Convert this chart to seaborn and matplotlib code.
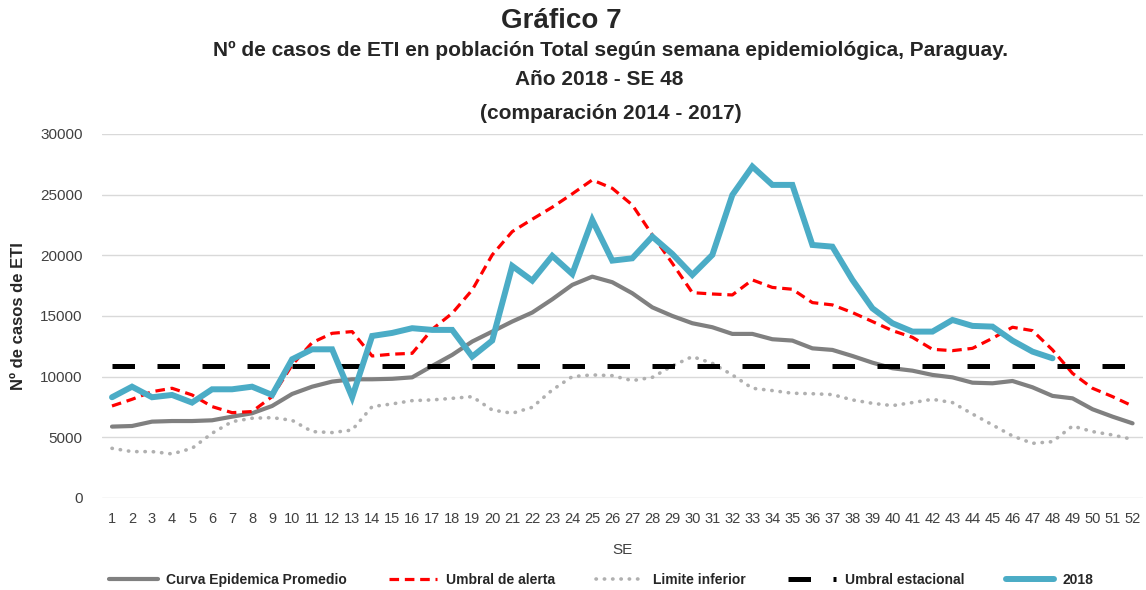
import matplotlib
matplotlib.use("Agg")
import matplotlib.pyplot as plt
import numpy as np
import pandas as pd
import seaborn as sns

# =============================================================================
# DATA
# =============================================================================
weeks = list(range(1, 53))

promedio = [5880, 5930, 6290, 6340, 6340, 6400, 6700, 6980, 7580, 8570,
            9170, 9590, 9780, 9780, 9820, 9940, 10880, 11790, 12890, 13710,
            14540, 15280, 16370, 17560, 18240, 17780, 16870, 15710, 15000, 14400,
            14070, 13520, 13520, 13080, 12970, 12330, 12200, 11700, 11150, 10690,
            10490, 10140, 9940, 9500, 9450, 9640, 9120, 8410, 8210, 7310,
            6700, 6150]

alerta = [7580, 8130, 8760, 9040, 8490, 7530, 7030, 7120, 8350, 10960,
          12800, 13570, 13710, 11700, 11850, 11920, 13900, 15220, 17140, 20030,
          21950, 22970, 23960, 25060, 26210, 25520, 24150, 21680, 19340, 16920,
          16810, 16730, 17970, 17350, 17200, 16100, 15910, 15280, 14540, 13790,
          13240, 12250, 12140, 12330, 13160, 14070, 13790, 12200, 10270, 9040,
          8350, 7580]

inferior = [4090, 3820, 3820, 3630, 4090, 5330, 6290, 6570, 6620, 6400,
            5470, 5390, 5600, 7530, 7750, 8020, 8080, 8210, 8350, 7250,
            6980, 7470, 8900, 10000, 10140, 10080, 9670, 9940, 10880, 11650,
            11100, 10140, 9040, 8850, 8630, 8590, 8520, 8080, 7800, 7610,
            7860, 8130, 7860, 6920, 6020, 5110, 4500, 4640, 5930, 5470,
            5190, 4830]

estacional = [10850] * 52

weeks_2018 = list(range(1, 49))
casos_2018 = [8300, 9170, 8300, 8490, 7860, 8955, 8955, 9170, 8490, 11430,
              12250, 12250, 8300, 13350, 13600, 13990, 13850, 13850, 11650, 12970,
              19120, 17910, 19950, 18460, 22910, 19560, 19750, 21540, 20110, 18380,
              20030, 24970, 27310, 25800, 25800, 20850, 20710, 17970, 15630, 14400,
              13710, 13710, 14670, 14180, 14120, 12970, 12060, 11510]

y_ticks = [0, 5000, 10000, 15000, 20000, 25000, 30000]

# =============================================================================
# PLOT
# =============================================================================
sns.set_style("white")
plt.rcParams["font.family"] = ["Liberation Sans", "DejaVu Sans"]

fig = plt.figure(figsize=(11.46, 5.90), dpi=100)
ax = fig.add_axes([0.089, 0.156, 0.908, 0.617])

ref = pd.DataFrame({"SE": weeks, "promedio": promedio, "alerta": alerta,
                    "inferior": inferior, "estacional": estacional})
cur = pd.DataFrame({"SE": weeks_2018, "casos": casos_2018})

sns.lineplot(data=ref, x="SE", y="promedio", ax=ax, color="#808080", lw=3.0,
             label="Curva Epidemica Promedio")
sns.lineplot(data=ref, x="SE", y="alerta", ax=ax, color="#FF0000", lw=2.3,
             label="Umbral de alerta")
ax.lines[-1].set_dashes([3, 1.8])
sns.lineplot(data=ref, x="SE", y="inferior", ax=ax, color="#B0B0B0", lw=2.6,
             label="Limite inferior")
ax.lines[-1].set_dashes([0.1, 2.2])
ax.lines[-1].set_dash_capstyle("round")
sns.lineplot(data=ref, x="SE", y="estacional", ax=ax, color="black", lw=3.6,
             label="Umbral estacional")
ax.lines[-1].set_dashes([4.5, 4.5])
sns.lineplot(data=cur, x="SE", y="casos", ax=ax, color="#4BACC6", lw=4.3,
             label="2018")
ax.lines[-1].set_solid_joinstyle("miter")

ax.set_xlim(0.5, 52.5)
ax.set_ylim(0, 30000)
ax.set_xticks(weeks)
ax.set_xticklabels([str(w) for w in weeks], fontsize=10.5, color="#404040")
ax.set_yticks(y_ticks)
ax.set_yticklabels([str(v) for v in y_ticks], fontsize=11, color="#404040")
ax.tick_params(axis="both", length=0)
ax.tick_params(axis="x", pad=10)
ax.tick_params(axis="y", pad=14)
ax.grid(axis="y", color="#D9D9D9", lw=1.0)
ax.set_axisbelow(True)
for s in ax.spines.values():
    s.set_visible(False)

ax.set_xlabel("SE", fontsize=11, color="#404040", labelpad=12)
ax.set_ylabel("Nº de casos de ETI", fontsize=12, fontweight="bold", labelpad=10)

fig.text(0.49, 0.965, "Gráfico 7", ha="center", va="center", fontsize=20,
         fontweight="bold")
fig.text(0.533, 0.915, "Nº de casos de ETI en población Total según semana epidemiológica, Paraguay.",
         ha="center", va="center", fontsize=15, fontweight="bold")
fig.text(0.523, 0.865, "Año 2018 - SE 48", ha="center", va="center",
         fontsize=15, fontweight="bold")
fig.text(0.533, 0.807, "(comparación 2014 - 2017)", ha="center", va="center",
         fontsize=15, fontweight="bold")

ax.legend(loc="center", bbox_to_anchor=(0.48, -0.225), ncol=5, frameon=False,
          prop={"weight": "bold", "size": 10}, handlelength=3.5,
          columnspacing=3.0, handletextpad=0.6)

fig.savefig("out.png", dpi=100)
